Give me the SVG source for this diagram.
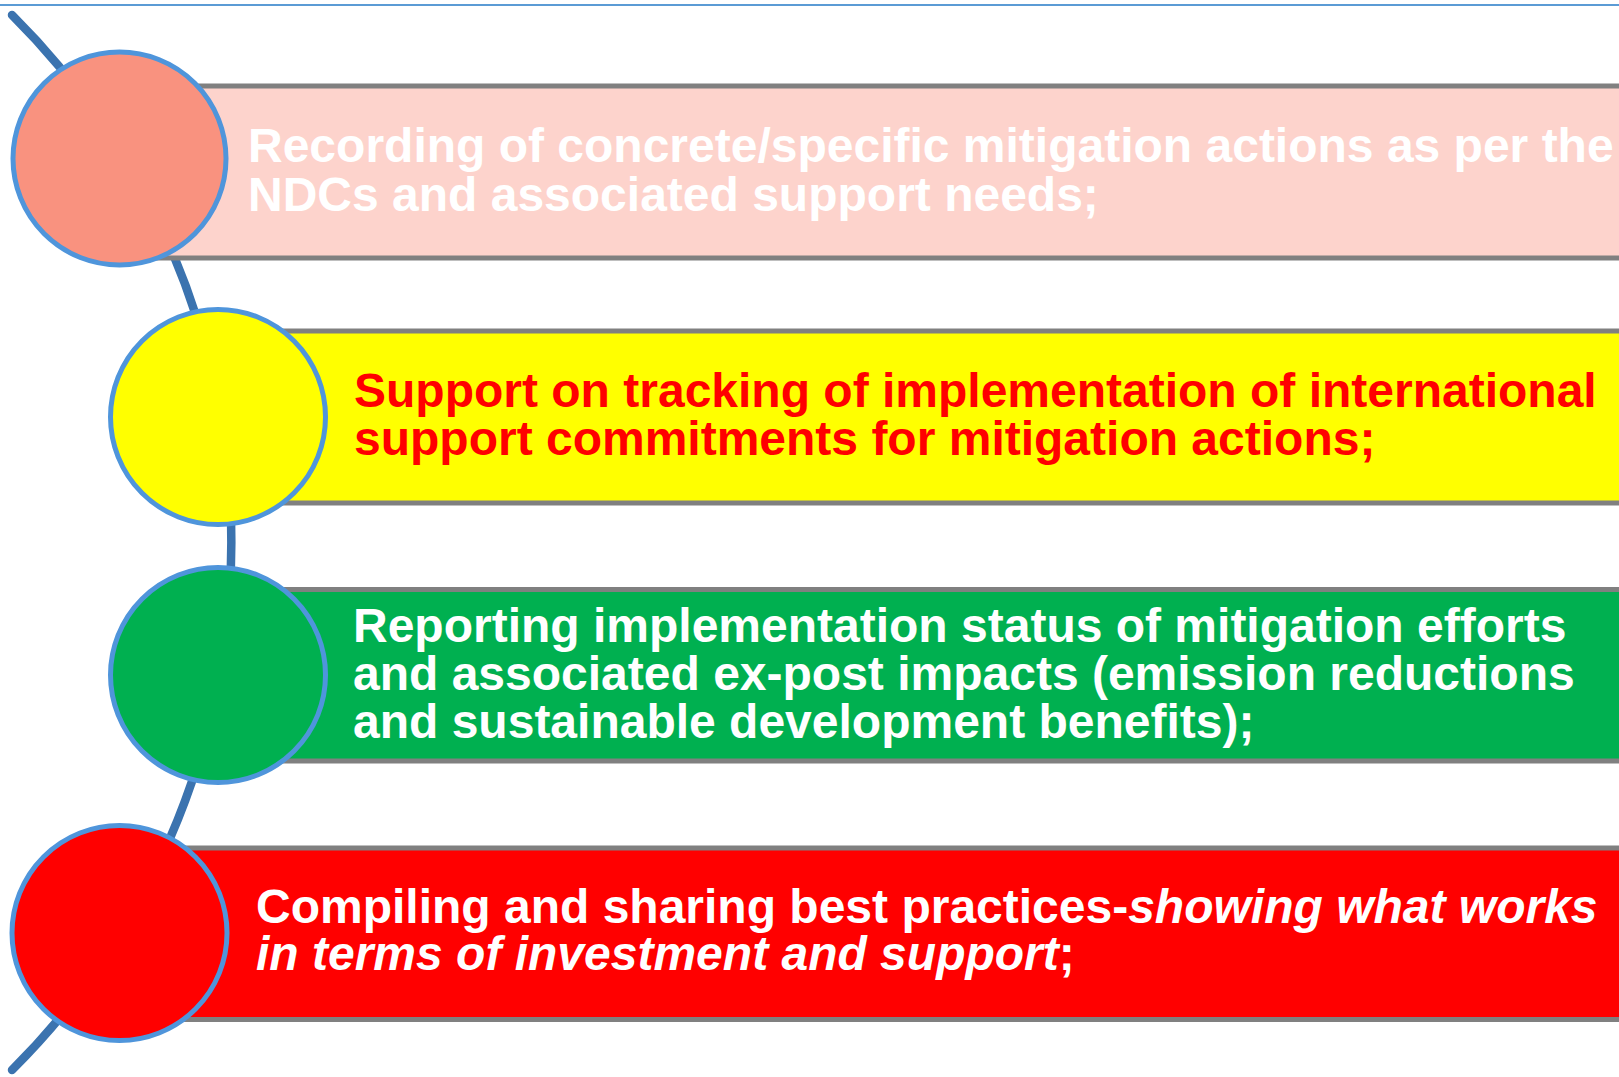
<svg xmlns="http://www.w3.org/2000/svg" width="1619" height="1077" viewBox="0 0 1619 1077">
<style>
.bar{stroke:#808080;stroke-width:5}
.dot{stroke:#4f95db;stroke-width:5}
.t{font-family:"Liberation Sans",Arial,sans-serif;font-weight:bold;font-size:48px}
.w{fill:#ffffff}
.r{fill:#ff0000}
.i{font-style:italic}
</style>
<rect x="0" y="0" width="1619" height="1077" fill="#ffffff"/>
<line x1="0" y1="5" x2="1619" y2="5" stroke="#5b9bd5" stroke-width="2"/>
<g id="connectors">
<path d="M 12 15 A 744 744 0 0 1 12 1070" fill="none" stroke="#3b73af" stroke-width="8.5" stroke-linecap="round"/>
</g>
<g id="node1">
<rect class="bar" x="119" y="86" width="1530" height="172" fill="#fdd3cc"/>
<circle class="dot" cx="119.5" cy="158.5" r="106.5" fill="#f9927f"/>
<text class="t w" x="248" y="162">Recording of concrete/specific mitigation actions as per the</text>
<text class="t w" x="248" y="210.5">NDCs and associated support needs;</text>
</g>
<g id="node2">
<rect class="bar" x="218" y="331" width="1430" height="172" fill="#ffff00"/>
<circle class="dot" cx="218" cy="417" r="107.5" fill="#ffff00"/>
<text class="t r" x="354" y="407">Support on tracking of implementation of international</text>
<text class="t r" x="354" y="455">support commitments for mitigation actions;</text>
</g>
<g id="node3">
<rect class="bar" x="218" y="589.5" width="1430" height="171.5" fill="#00b050"/>
<circle class="dot" cx="218" cy="675" r="107.5" fill="#00b050"/>
<text class="t w" x="353" y="641.5">Reporting implementation status of mitigation efforts</text>
<text class="t w" x="353" y="690">and associated ex-post impacts (emission reductions</text>
<text class="t w" x="353" y="738.3">and sustainable development benefits);</text>
</g>
<g id="node4">
<rect class="bar" x="119" y="848" width="1530" height="171.5" fill="#ff0000"/>
<circle class="dot" cx="119.5" cy="933" r="107.5" fill="#ff0000"/>
<text class="t w" x="256" y="923.3">Compiling and sharing best practices-<tspan class="i">showing what works</tspan></text>
<text class="t w" x="256" y="970"><tspan class="i">in terms of investment and support</tspan>;</text>
</g>
</svg>
